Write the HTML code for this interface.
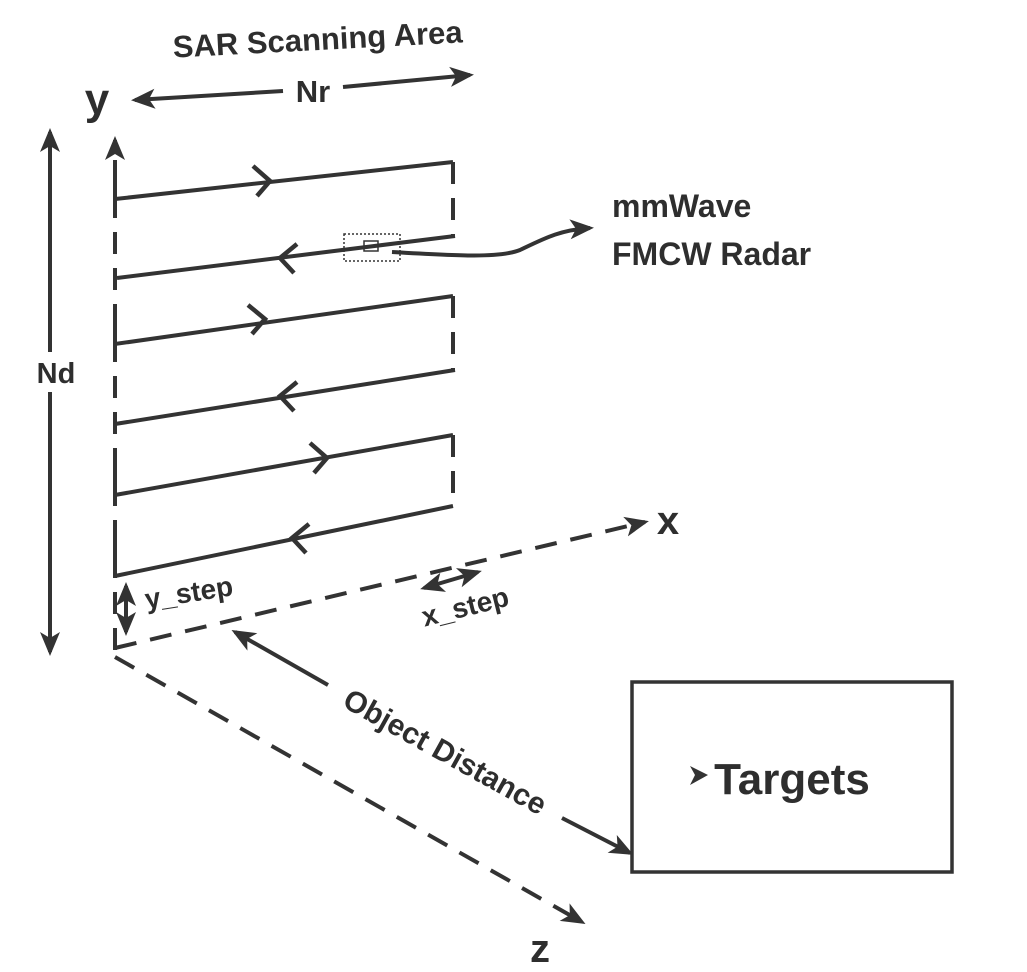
<!DOCTYPE html>
<html><head><style>
body{margin:0;background:#fff}
svg{display:block}
text{font-family:"Liberation Sans",sans-serif;font-weight:bold;fill:#2e2e2e}
</style></head><body>
<svg width="1027" height="972" viewBox="0 0 1027 972" xmlns="http://www.w3.org/2000/svg">
<defs>
<marker id="ahb" markerWidth="30" markerHeight="30" refX="20" refY="12" orient="auto-start-reverse" markerUnits="userSpaceOnUse"><path d="M0,2 L24,12 L0,22 L6,12 Z" fill="#333"/></marker>
</defs>
<g stroke="#333" stroke-width="4" fill="none">
<line x1="115" y1="650" x2="115" y2="140" stroke-dasharray="22,14" marker-end="url(#ahb)"/>
<line x1="453" y1="162" x2="453" y2="237" stroke-dasharray="22,14"/>
<line x1="453" y1="296" x2="453" y2="370" stroke-dasharray="22,14"/>
<line x1="453" y1="435" x2="453" y2="506" stroke-dasharray="22,14"/>
<polyline points="115,178 115,199 453,162"/>
<line x1="455" y1="236" x2="117" y2="278"/>
<polyline points="115,320 115,344 453,296"/>
<line x1="455" y1="370" x2="115" y2="424"/>
<polyline points="115,470 115,495 453,435"/>
<line x1="453" y1="506" x2="115" y2="576"/>
<line x1="115" y1="540" x2="115" y2="576"/>
<g stroke-width="4.5">
<polyline points="253,166 270,181 257,196"/>
<polyline points="297,244 280,258 294,273"/>
<polyline points="248,305 265,319 252,334"/>
<polyline points="297,382 280,396 294,411"/>
<polyline points="310,443 327,458 314,473"/>
<polyline points="309,524 292,538 306,553"/>
</g>
<line x1="115" y1="648" x2="645" y2="522" stroke-dasharray="22,14" marker-end="url(#ahb)"/>
<line x1="115" y1="657" x2="582" y2="922" stroke-dasharray="22,14" marker-end="url(#ahb)"/>
<line x1="50" y1="132" x2="50" y2="652" marker-start="url(#ahb)" marker-end="url(#ahb)"/>
<line x1="135" y1="100" x2="283" y2="91" marker-start="url(#ahb)"/>
<line x1="343" y1="87" x2="470" y2="75" marker-end="url(#ahb)"/>
<line x1="126" y1="586" x2="126" y2="632" marker-start="url(#ahb)" marker-end="url(#ahb)"/>
<line x1="424" y1="588" x2="478" y2="572" marker-start="url(#ahb)" marker-end="url(#ahb)"/>
<line x1="235" y1="632" x2="328" y2="685" marker-start="url(#ahb)"/>
<line x1="562" y1="818" x2="630" y2="853" marker-end="url(#ahb)"/>
<rect x="632" y="682" width="320" height="190" stroke-width="3.5"/>
<path d="M392,252 C460,256 500,258 520,250 C545,238 560,230 590,228" marker-end="url(#ahb)"/>
</g>
<rect x="30" y="352" width="48" height="40" fill="#fff"/>
<rect x="344" y="234" width="56" height="27" fill="none" stroke="#333" stroke-width="1.5" stroke-dasharray="2,2"/>
<rect x="364" y="241" width="14" height="10" fill="none" stroke="#333" stroke-width="1.5"/>
<path d="M690,766 L708,775 L690,785 L695,775 Z" fill="#333"/>
<text x="318" y="50" font-size="31" text-anchor="middle" transform="rotate(-3 318 46)">SAR Scanning Area</text>
<text x="313" y="102" font-size="31" text-anchor="middle">Nr</text>
<text x="97" y="114" font-size="44" text-anchor="middle">y</text>
<text x="56" y="383" font-size="29" text-anchor="middle">Nd</text>
<text x="612" y="217" font-size="32">mmWave</text>
<text x="612" y="265" font-size="32">FMCW Radar</text>
<text x="668" y="534" font-size="40" text-anchor="middle">x</text>
<text x="540" y="962" font-size="40" text-anchor="middle">z</text>
<text x="190" y="602" font-size="28" text-anchor="middle" transform="rotate(-9 190 600)">y_step</text>
<text x="467" y="616" font-size="28" text-anchor="middle" transform="rotate(-14 467 614)">x_step</text>
<text x="445" y="762" font-size="30" text-anchor="middle" transform="rotate(29 445 752)">Object Distance</text>
<text x="792" y="794" font-size="44" text-anchor="middle">Targets</text>
</svg>
</body></html>
